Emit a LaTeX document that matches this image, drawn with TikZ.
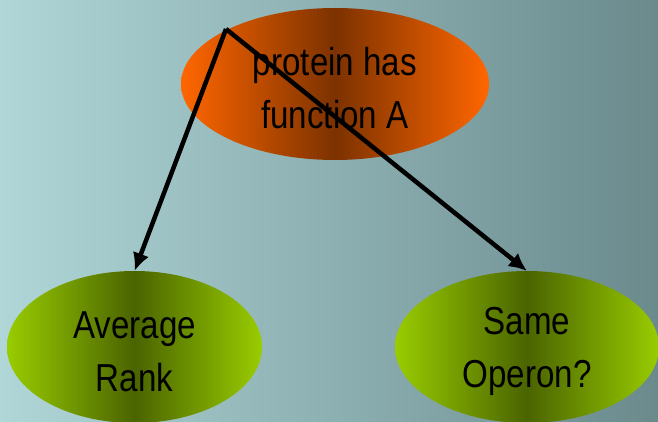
\documentclass[tikz,border=0pt]{standalone}
\usepackage{fontspec}
\setmainfont[FakeStretch=0.85]{Liberation Sans}
\usepackage{tikz}
\usetikzlibrary{shapes,arrows,arrows.meta}
\definecolor{bgleft}{HTML}{B0D6D8}
\definecolor{bgright}{HTML}{6A8A8C}
\definecolor{orangeedge}{HTML}{FF6600}
\definecolor{orangemid}{HTML}{7C3200}
\definecolor{greenedge}{HTML}{99CC00}
\definecolor{greenmid}{HTML}{4A6400}
\tikzstyle{line} = [draw, line width=4.5pt, -{Latex[length=18pt,width=17pt]}]
\tikzstyle{root} = [ellipse, inner sep=0pt, outer sep=0pt, left color=orangeedge, right color=orangeedge, middle color=orangemid, minimum width=308pt, minimum height=152pt, align=center, text height=89pt, font=\fontsize{39}{53}\selectfont]
\tikzstyle{leaf} = [ellipse, inner sep=0pt, outer sep=0pt, left color=greenedge, right color=greenedge, middle color=greenmid, minimum height=152pt, align=center, text height=89pt, font=\fontsize{39}{53}\selectfont]
\begin{document}
\begin{tikzpicture}[x=1pt, y=-1pt]
			\shade [left color=bgleft, right color=bgright] (0,0) rectangle (658,422);
			\useasboundingbox (0,0) rectangle (658,422);
		
			\node [root] (protein) at (335,84) {protein has\\function A};
			
			\node [leaf, minimum width=255pt] (avg) at (134.5,347) {Average\\Rank};
			\node [leaf, minimum width=264pt] (operon) at (527,347) {Same\\Operon?};
			
			\coordinate (apex) at (226,29);
			
			\path [line] (apex) to (avg.north);
			\path [line] (apex) to (operon.north);
		\end{tikzpicture}
\end{document}
